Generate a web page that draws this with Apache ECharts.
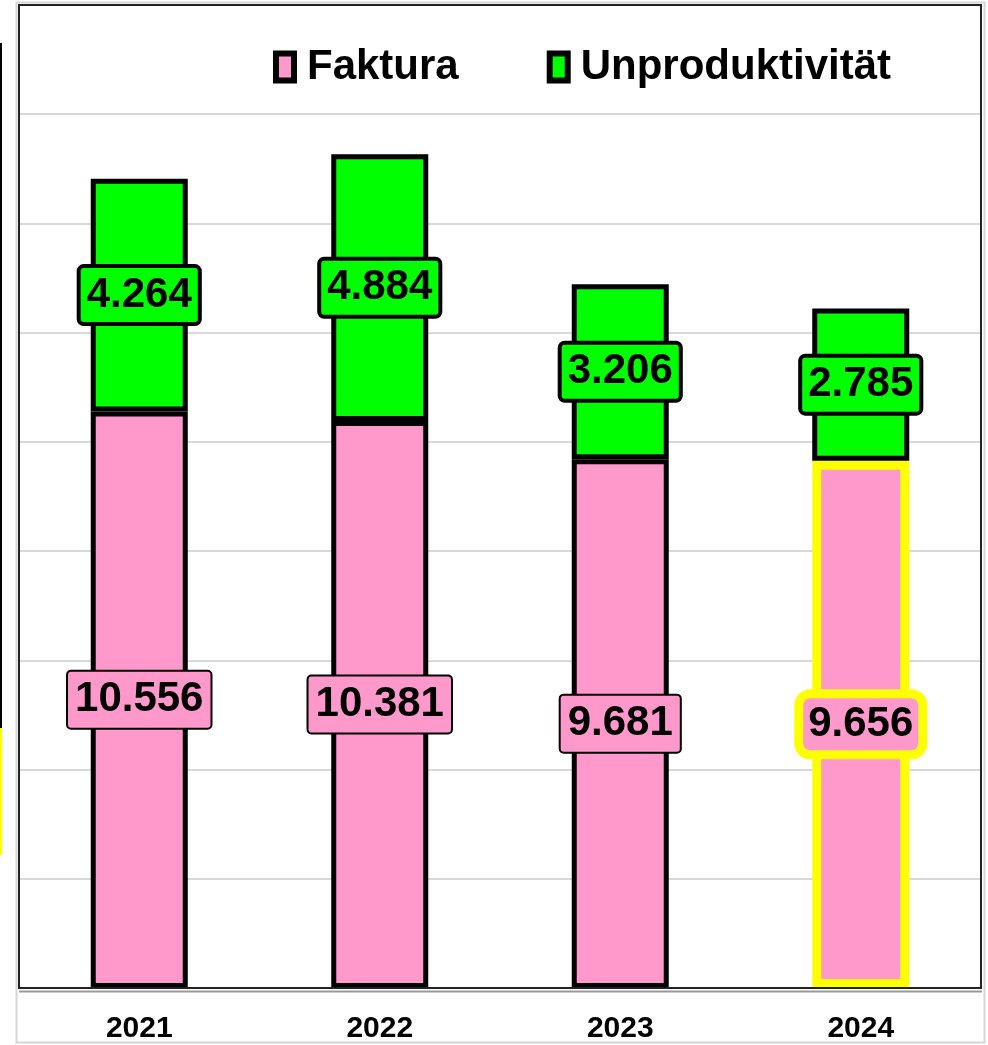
<!DOCTYPE html>
<html lang="de">
<head>
    <meta charset="UTF-8">
    <title>Faktura / Unproduktivität</title>
    <style>
        * {
            margin: 0;
            padding: 0;
        }

        .main {
            width: 988px;
            height: 1045px;
        }
    </style>
</head>
<body>
<div id="main" class="main"></div>
<script src="https://cdn.jsdelivr.net/npm/echarts@6/dist/echarts.min.js"></script>
<script>
    var years = ['2021', '2022', '2023', '2024'];
    var faktura = [10556, 10381, 9681, 9656];
    var unproduktiv = [4264, 4884, 3206, 2785];
    var yTicks = [0, 18000, 2000]; // min, max, interval

    var FONT = '"Liberation Sans", Arial, sans-serif';
    var PINK = '#ff99cc';
    var GREEN = '#00ff00';

    // 10556 -> "10.556"
    function fmt(v) {
        var s = String(Math.round(v));
        return s.replace(/\B(?=(\d{3})+(?!\d))/g, '.');
    }

    function labelStyle(bg, bw, pad) {
        return {
            show: true,
            position: 'inside',
            formatter: function (p) { return fmt(p.value); },
            color: '#000',
            fontFamily: FONT,
            fontWeight: 'bold',
            fontSize: 42,
            lineHeight: 42,
            backgroundColor: bg,
            borderColor: '#000',
            borderWidth: bw,
            borderRadius: 3,
            padding: pad
        };
    }

    var fakturaData = faktura.map(function (v, i) {
        if (i === faktura.length - 1) {
            return {
                value: v,
                itemStyle: {borderColor: '#ffff00', borderWidth: 9},
                label: {borderColor: '#ffff00', borderWidth: 9, borderRadius: 7, padding: [6, 5, 4, 5]}
            };
        }
        return v;
    });

    var myChart = echarts.init(document.getElementById('main'), null, {renderer: 'canvas'});

    myChart.setOption({
        backgroundColor: '#fff',
        animation: false,
        textStyle: {fontFamily: FONT},
        graphic: [
            // outer frame
            {type: 'rect', shape: {x: 16.5, y: 2.5, width: 968, height: 1040},
                style: {fill: null, stroke: '#d6d6d6', lineWidth: 2}, silent: true, z: -1},
            // plot frame
            {type: 'rect', shape: {x: 19, y: 5, width: 962, height: 983},
                style: {fill: null, stroke: '#222', lineWidth: 2}, silent: true, z: 100},
            // cut-off marks on the left edge
            {type: 'line', shape: {x1: 1, y1: 43, x2: 1, y2: 855},
                style: {stroke: '#000', lineWidth: 2}, silent: true},
            {type: 'line', shape: {x1: 1, y1: 728, x2: 1, y2: 855},
                style: {stroke: '#ffff00', lineWidth: 2}, silent: true},
            // double line under plot
            {type: 'line', shape: {x1: 19, y1: 991.5, x2: 982, y2: 991.5},
                style: {stroke: '#999', lineWidth: 2}, silent: true}
        ],
        legend: {
            data: ['Faktura', 'Unproduktivität'],
            left: 268,
            top: 41,
            icon: 'rect',
            itemWidth: 18,
            itemHeight: 27,
            itemGap: 88,
            textStyle: {fontFamily: FONT, fontWeight: 'bold', fontSize: 42, color: '#000', padding: [0, 0, 0, 8]},
            itemStyle: {borderColor: '#000', borderWidth: 6}
        },
        grid: {
            left: 19,
            right: 7,
            top: 5,
            bottom: 57,
            containLabel: false
        },
        xAxis: {
            type: 'category',
            data: years,
            axisLine: {show: false},
            axisTick: {show: false},
            axisLabel: {
                margin: 26,
                color: '#000',
                fontFamily: FONT,
                fontWeight: 'bold',
                fontSize: 30
            }
        },
        yAxis: {
            type: 'value',
            min: yTicks[0],
            max: yTicks[1],
            interval: yTicks[2],
            axisLabel: {show: false},
            axisLine: {show: false},
            axisTick: {show: false},
            splitLine: {lineStyle: {color: '#d9d9d9', width: 2}}
        },
        series: [{
            name: 'Faktura',
            type: 'bar',
            stack: 'total',
            barWidth: 97,
            itemStyle: {color: PINK, borderColor: '#000', borderWidth: 5},
            label: labelStyle(PINK, 2, [8, 7, 6, 7]),
            data: fakturaData
        }, {
            name: 'Unproduktivität',
            type: 'bar',
            stack: 'total',
            barWidth: 97,
            itemStyle: {color: GREEN, borderColor: '#000', borderWidth: 5},
            label: labelStyle(GREEN, 4, [7, 6, 5, 6]),
            data: unproduktiv
        }]
    });
</script>
</body>
</html>
